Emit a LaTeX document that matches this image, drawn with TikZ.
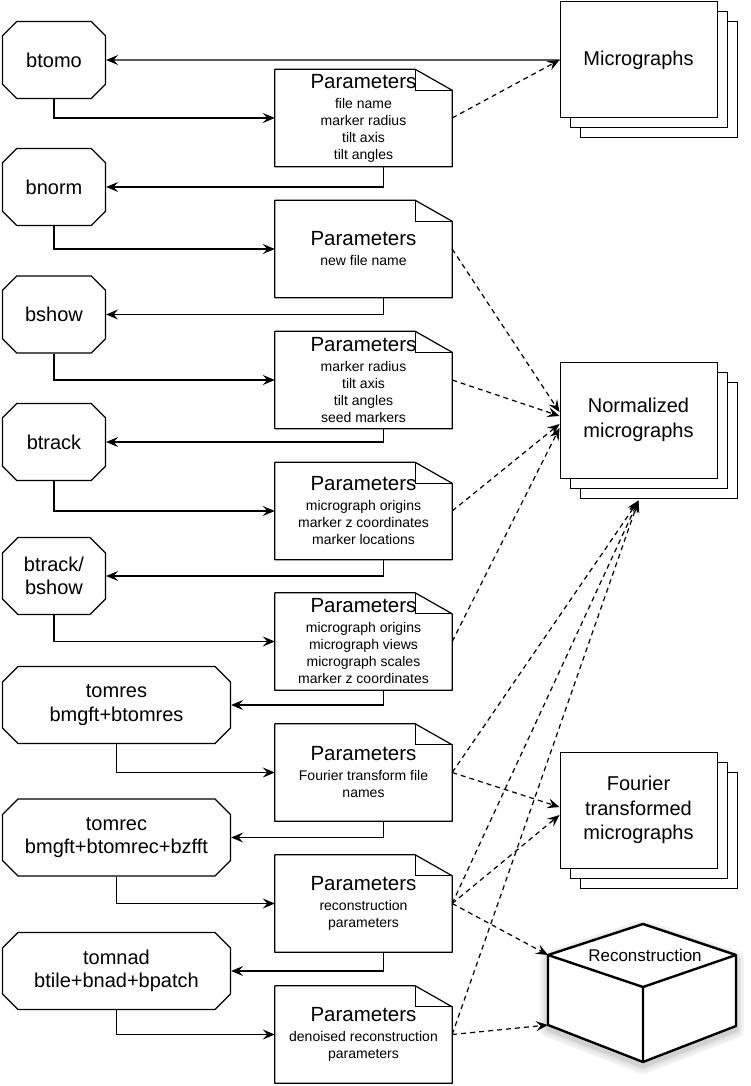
\documentclass[tikz,border=0pt]{standalone}
\usepackage{fontspec}
\setmainfont{Liberation Sans}
\usetikzlibrary{positioning, shapes.misc, shadows, arrows.meta}

\tikzset{
  prog/.style={draw, line width=1.2pt, chamfered rectangle, chamfered rectangle xsep=12pt,
    minimum width=103pt, minimum height=77pt, align=center,
    font=\fontsize{20}{23.5}\selectfont},
  wideprog/.style={prog, minimum width=228pt},
  params/.style={minimum width=177pt, minimum height=97pt, inner sep=0pt, align=center,
    font=\fontsize{14}{17}\selectfont},
  stack/.style={draw, fill=white, line width=1pt, minimum width=157pt, minimum height=116pt,
    align=center, font=\fontsize{20}{24.5}\selectfont,
    copy shadow={shadow xshift=20pt, shadow yshift=-20pt, draw=black, fill=white, line width=1pt},
    copy shadow={shadow xshift=10pt, shadow yshift=-10pt, draw=black, fill=white, line width=1pt}},
  flow/.style={-{Stealth[length=12pt, width=10pt, inset=4.5pt]}, line width=1.2pt},
  feed/.style={flow, dash pattern=on 5pt off 4pt}
}
\newcommand{\ptitle}{{\fontsize{20.5}{22}\selectfont Parameters}}

\begin{document}
\begin{tikzpicture}[x=1pt, y=1pt, on grid]
    \useasboundingbox (0,0) rectangle (750,-1086);

    % programs and their parameter files
    \node[prog] (btomo) at (54,-60) {btomo};
    \node[params] (p1) [below right=58pt and 309.5pt of btomo]
        {\ptitle\\[3pt] file name\\ marker radius\\ tilt axis\\ tilt angles};
    \node[prog] (bnorm) [below=127pt of btomo] {bnorm};
    \node[params] (p2) [below=131pt of p1] {\ptitle\\[3pt] new file name};
    \node[prog] (bshow) [below=127.5pt of bnorm] {bshow};
    \node[params] (p3) [below=131pt of p2]
        {\ptitle\\[3pt] marker radius\\ tilt axis\\ tilt angles\\ seed markers};
    \node[prog] (btrack) [below=127.5pt of bshow] {btrack};
    \node[params] (p4) [below=131pt of p3]
        {\ptitle\\[3pt] micrograph origins\\ marker z coordinates\\ marker locations};
    \node[prog] (btrackshow) [below=134pt of btrack] {btrack/\\bshow};
    \node[params] (p5) [below=130.5pt of p4]
        {\ptitle\\[3pt] micrograph origins\\ micrograph views\\ micrograph scales\\ marker z coordinates};
    \node[wideprog] (tomres) [below=129pt of btrackshow.west, anchor=west] {tomres\\bmgft+btomres};
    \node[params] (p6) [below=131pt of p5] {\ptitle\\[3pt] Fourier transform file\\ names};
    \node[wideprog] (tomrec) [below=132.5pt of tomres.west, anchor=west] {tomrec\\bmgft+btomrec+bzfft};
    \node[params] (p7) [below=131pt of p6] {\ptitle\\[3pt] reconstruction\\ parameters};
    \node[wideprog] (tomnad) [below=133.5pt of tomrec.west, anchor=west] {tomnad\\btile+bnad+bpatch};
    \node[params] (p8) [below=131pt of p7] {\ptitle\\[3pt] denoised reconstruction\\ parameters};

    % folded corners
    \foreach \d in {p1,p2,p3,p4,p5,p6,p7,p8}{
        \draw[line width=1.2pt, line join=round] (\d.south west) -- (\d.north west)
            -- ([xshift=-37pt]\d.north east) -- ([yshift=-21pt]\d.north east)
            -- (\d.south east) -- cycle;
        \draw[line width=1.2pt] ([xshift=-37pt]\d.north east) |- ([yshift=-21pt]\d.north east);
    }

    % data sets
    \node[stack] (micro) [right=584.5pt of btomo] {Micrographs};
    \node[stack] (norm) [below=360pt of micro] {Normalized\\micrographs};
    \node[stack] (four) [below=390pt of norm] {Fourier\\transformed\\micrographs};
    \coordinate (normback) at ([yshift=-22pt]norm.south);

    % reconstruction box
    \coordinate (cube) at (643,-955);
    \foreach \w/\c in {16/5, 12/8, 8/12, 4/18}
        \draw[black!\c, line width=\w pt, line join=round] ([shift={(-95,-4)}]cube)
            -- ++(95,31) -- ++(93,-31) -- ++(0,-71) -- ++(-93,-36) -- ++(-95,37) -- cycle;
    \path (cube) ++(-95,0) coordinate (ctl) ++(95,31) coordinate (ct) ++(93,-31) coordinate (ctr)
        ++(0,-71) coordinate (cbr) ++(-93,-36) coordinate (cb) ++(-95,37) coordinate (cbl);
    \coordinate (cft) at ([yshift=-32pt]cube);
    \filldraw[fill=white, line width=2.4pt, line join=round]
        (ctl) -- (ct) -- (ctr) -- (cbr) -- (cb) -- (cbl) -- cycle;
    \draw[line width=2.4pt, line join=round] (ctl) -- (cft) -- (ctr) (cft) -- (cb);
    \node[font=\fontsize{17}{20}\selectfont] (recon) at ([xshift=2pt]cube) {Reconstruction};

    % program flow
    \draw[flow] (micro) -- (btomo);
    \draw[flow] (btomo) |- (p1);
    \draw[flow] ([xshift=20pt]p1.south) |- (bnorm);
    \draw[flow] (bnorm) |- (p2);
    \draw[flow] ([xshift=20pt]p2.south) |- (bshow);
    \draw[flow] (bshow) |- (p3);
    \draw[flow] ([xshift=20pt]p3.south) |- (btrack);
    \draw[flow] (btrack) |- (p4);
    \draw[flow] ([xshift=20pt]p4.south) |- (btrackshow);
    \draw[flow] (btrackshow) |- (p5);
    \draw[flow] ([xshift=20pt]p5.south) |- (tomres);
    \draw[flow] (tomres) |- (p6);
    \draw[flow] ([xshift=20pt]p6.south) |- (tomrec);
    \draw[flow] (tomrec) |- (p7);
    \draw[flow] ([xshift=20pt]p7.south) |- (tomnad);
    \draw[flow] (tomnad) |- (p8);

    % data written
    \draw[feed] (p1.east) -- (micro.west);
    \draw[feed] (p2.east) -- ([yshift=8pt]norm.west);
    \draw[feed] (p3.east) -- ([yshift=4pt]norm.west);
    \draw[feed] (p4.east) -- ([yshift=-4pt]norm.west);
    \draw[feed] (p5.east) -- ([yshift=-8pt]norm.west);
    \draw[feed] (p6.east) -- (normback);
    \draw[feed] (p7.east) -- (normback);
    \draw[feed] (p8.east) -- (normback);
    \draw[feed] (p6.east) -- ([yshift=3pt]four.west);
    \draw[feed] (p7.east) -- ([yshift=-5pt]four.west);
    \draw[feed] (p7.east) -- (ctl);
    \draw[feed] (p8.east) -- (cbl);
\end{tikzpicture}
\end{document}
